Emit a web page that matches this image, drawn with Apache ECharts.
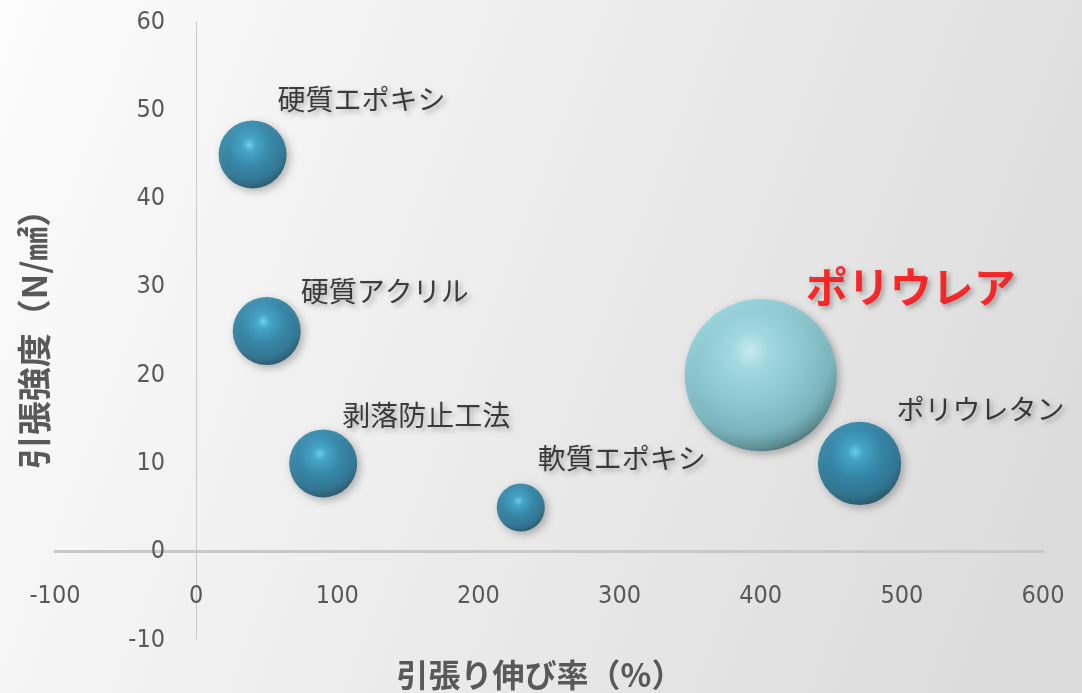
<!DOCTYPE html>
<html><head><meta charset="utf-8">
<script src="https://cdn.jsdelivr.net/npm/echarts@6/dist/echarts.min.js"></script>
<style>html,body{margin:0;padding:0;}#c{width:1082px;height:693px;}</style>
</head><body><div id="c"></div>
<script>
// ---- data ----
const names = ['硬質エポキシ','硬質アクリル','剥落防止工法','軟質エポキシ','ポリウレア','ポリウレタン'];
const elongation = [40, 50, 90, 230, 400, 470];     // 引張り伸び率（%）
const strength = [45, 25, 10, 5, 20, 10];           // 引張強度（N/㎟）
const bubbleSize = [20, 20, 20, 10, 100, 30];
const xTicks = [-100, 0, 100, 200, 300, 400, 500, 600];
const yTicks = [-10, 0, 10, 20, 30, 40, 50, 60];

// ---- styling (not data) ----
const labelOffsets = [[25,-55],[34,-40],[19,-48],[17,-49],[45,-88],[37,-54]];
const highlightIdx = 4;
const maxDiameter = 152;

const darkBall = {type:'radial', x:0.45, y:0.36, r:0.7, colorStops:[
  {offset:0, color:'#5ad8f8'},{offset:0.14, color:'#2ca3cc'},{offset:0.45, color:'#1a7ea6'},{offset:0.75, color:'#15698c'},{offset:0.9, color:'#0c4a64'},{offset:1, color:'#062a3a'}]};
const lightBall = {type:'radial', x:0.43, y:0.34, r:0.7, colorStops:[
  {offset:0, color:'#d0fcff'},{offset:0.18, color:'#9fe3ee'},{offset:0.5, color:'#86cfda'},{offset:0.78, color:'#70b6c0'},{offset:0.92, color:'#4b878f'},{offset:1, color:'#284a4f'}]};

const data = names.map((n,i)=>{
  const hl = i===highlightIdx;
  return {
    name:n,
    value:[elongation[i], strength[i], bubbleSize[i]],
    symbolSize: maxDiameter*Math.sqrt(bubbleSize[i]/100),
    itemStyle:{color: hl? lightBall: darkBall, shadowBlur:8, shadowColor:'rgba(0,0,0,0.35)', shadowOffsetX:3, shadowOffsetY:3},
    label:{show:true, position:'inside', align:'left', verticalAlign:'middle',
      offset: labelOffsets[i], formatter:n,
      color: hl? '#ff0000':'#111',
      fontSize: hl? 42: 28, fontWeight: hl? 'bold':'normal',
      fontFamily:'"Noto Sans CJK JP"',
      textShadowColor:'rgba(0,0,0,0.35)', textShadowBlur:5, textShadowOffsetX:3, textShadowOffsetY:3}
  };
});

const axisFont = '"DejaVu Sans Condensed","Liberation Sans Narrow",sans-serif';
const chart = echarts.init(document.getElementById('c'));
chart.setOption({
  backgroundColor:{type:'linear', x:0, y:0, x2:1, y2:0.6, colorStops:[{offset:0,color:'#fcfcfc'},{offset:1,color:'#dcdcdc'}]},
  animation:false,
  grid:{left:55, right:39, top:22, bottom:53, containLabel:false, outerBoundsMode:'none'},
  xAxis:{type:'value', min:xTicks[0], max:xTicks[xTicks.length-1], interval:100,
    axisLine:{onZero:true, lineStyle:{color:'#c8c8c8', width:3}},
    axisTick:{show:false}, splitLine:{show:false},
    axisLabel:{margin:-56, color:'#595959', fontSize:25, fontFamily:axisFont},
    name:'引張り伸び率（%）', nameLocation:'middle', nameGap:19,
    nameTextStyle:{color:'#595959', fontSize:32, fontWeight:'bold', fontFamily:'"Noto Sans CJK JP"', padding:[0,18,0,0]}
  },
  yAxis:{type:'value', min:yTicks[0], max:yTicks[yTicks.length-1], interval:10,
    axisLine:{onZero:true, lineStyle:{color:'#c8c8c8', width:1}},
    axisTick:{show:false}, splitLine:{show:false},
    axisLabel:{margin:-110, color:'#595959', fontSize:25, fontFamily:axisFont},
    name:'引張強度（N/㎟）', nameLocation:'middle', nameGap:4,
    nameTextStyle:{color:'#595959', fontSize:34, fontWeight:'bold', fontFamily:'"Noto Sans CJK JP"'}
  },
  series:[{type:'scatter', data:data, z:3}]
});
</script></body></html>
